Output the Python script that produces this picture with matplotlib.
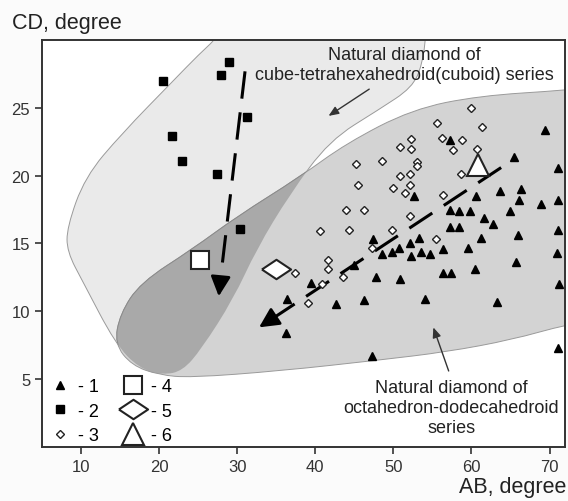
import numpy as np
import matplotlib
matplotlib.use("Agg")
import matplotlib.pyplot as plt
from matplotlib.path import Path
from matplotlib.patches import PathPatch

plt.rcParams['font.family'] = ['Liberation Sans', 'DejaVu Sans']

# series 1: triangles
tri_x = [52.6, 57.2, 69.4, 65.4, 71.1, 63.6, 66.3, 60.6, 71.1, 68.9, 66.1, 64.9, 61.6,
         62.7, 57.2, 58.4, 59.8, 57.2, 58.4, 66.0, 71.1, 61.2, 47.4, 48.5, 47.8, 44.9,
         39.5, 36.4, 46.3, 42.7, 53.3, 52.1, 50.7, 49.8, 53.5, 52.3, 54.7, 56.3, 59.6,
         71.0, 65.7, 56.3, 57.4, 60.4, 50.9, 71.2, 54.1, 63.3, 36.2, 47.3, 71.1]
tri_y = [18.5, 22.6, 23.4, 21.4, 20.6, 18.9, 19.0, 18.5, 18.2, 17.9, 18.2, 17.4, 16.9,
         16.4, 17.5, 17.4, 17.4, 16.2, 16.2, 15.6, 16.0, 15.4, 15.3, 14.2, 12.5, 13.4,
         12.1, 10.9, 10.8, 10.5, 15.4, 15.0, 14.7, 14.4, 14.4, 14.1, 14.2, 14.6, 14.7,
         14.3, 13.6, 12.8, 12.8, 13.1, 12.4, 12.0, 10.9, 10.7, 8.4, 6.7, 7.3]

# series 2: squares
sq_x = [20.5, 29.0, 27.9, 31.3, 21.7, 22.9, 27.4, 30.3]
sq_y = [27.0, 28.4, 27.4, 24.3, 22.9, 21.1, 20.1, 16.1]

# series 3: small diamonds
dia_x = [52.3, 50.8, 52.3, 45.2, 48.6, 53.0, 53.0, 50.8, 52.1, 52.1, 45.5, 49.9, 51.5,
         59.9, 55.6, 61.4, 56.2, 58.8, 57.6, 60.7, 58.7, 56.3, 43.9, 46.3, 52.1, 40.6,
         44.3, 49.8, 55.5, 47.2, 41.6, 41.6, 37.4, 43.5, 40.8, 39.1]
dia_y = [22.7, 22.1, 22.0, 20.9, 21.1, 21.0, 20.7, 20.0, 20.1, 19.3, 19.3, 19.1, 18.7,
         25.0, 23.9, 23.6, 22.8, 22.6, 21.9, 22.0, 20.1, 18.6, 17.5, 17.5, 17.0, 15.9,
         16.0, 16.0, 15.3, 14.7, 13.8, 13.1, 12.8, 12.5, 12.0, 10.6]

# 4-6: mean values
mean4 = (25.2, 13.8)
mean5 = (35.0, 13.1)
mean6 = (60.8, 20.8)

# trend arrows (start, tip)
trend_sq = [(31.0, 27.7), (27.6, 10.9)]
trend_tri = [(63.8, 20.6), (32.5, 8.7)]

# region outlines (control points)
cube_pts = [(28.0, 30.5), (25.0, 28.9), (21.8, 27.0), (15.2, 23.1), (10.5, 19.9),
            (8.2, 16.2), (8.2, 14.4), (10.3, 12.1), (14.4, 7.6), (17.4, 5.8),
            (20.5, 5.3), (23.0, 5.6), (25.4, 7.2), (29.5, 10.9), (32.5, 14.6),
            (36.7, 18.6), (41.8, 22.6), (48.2, 24.9), (52.4, 26.5), (53.7, 28.2),
            (54.2, 30.5), (54.4, 34), (54.4, 40), (27, 40), (29, 34)]
octa_pts = [(85.0, 27.0), (72.0, 26.3), (61.0, 25.9), (52.4, 24.9), (44.0, 22.4),
            (38.0, 19.9), (30.0, 17.0), (24.3, 14.6), (17.6, 12.1), (15.0, 9.8),
            (14.3, 7.6), (16.5, 6.0), (20.0, 5.3), (24.0, 5.1), (35.5, 5.6),
            (48.2, 6.4), (56.8, 7.0), (65.2, 7.9), (72.0, 9.0), (85.0, 10.5)]


def smooth_path(pts):
    # closed quadratic b-spline through the midpoints of the control polygon
    p = np.array(pts)
    mids = (p + np.roll(p, -1, axis=0)) / 2
    verts = [mids[-1]]
    codes = [Path.MOVETO]
    for i in range(len(p)):
        verts += [p[i], mids[i]]
        codes += [Path.CURVE3, Path.CURVE3]
    verts.append(mids[-1])
    codes.append(Path.CLOSEPOLY)
    return Path(verts, codes)


fig = plt.figure(figsize=(5.68, 5.02), dpi=100)
fig.patch.set_facecolor('#fbfbfb')
ax = fig.add_axes([0.074, 0.108, 0.921, 0.81])
ax.set_facecolor('white')

cube_path = smooth_path(cube_pts)
octa_path = smooth_path(octa_pts)
cube = PathPatch(cube_path, facecolor='#eaeaea', edgecolor='#9a9a9a', lw=0.7, zorder=1)
octa = PathPatch(octa_path, facecolor='#d3d3d3', edgecolor='#9a9a9a', lw=0.7, zorder=1)
ax.add_patch(cube)
ax.add_patch(octa)
overlap = PathPatch(octa_path, facecolor='#a9a9a9', edgecolor='#8a8a8a', lw=0.7, zorder=1.5)
ax.add_patch(overlap)
overlap.set_clip_path(cube)

dash = (0, (9, 4.5))
ax.plot([trend_sq[0][0], trend_sq[1][0] + 0.2], [trend_sq[0][1], trend_sq[1][1] + 1.2],
        color='black', lw=2.2, ls=dash, zorder=4)
ax.annotate('', xy=trend_sq[1], xytext=(trend_sq[1][0] + 0.25, trend_sq[1][1] + 1.5),
            arrowprops=dict(arrowstyle='-|>,head_length=1.2,head_width=0.6',
                            color='black', lw=2), zorder=4)
ax.plot([trend_tri[0][0], trend_tri[1][0] + 1.6], [trend_tri[0][1], trend_tri[1][1] + 0.6],
        color='black', lw=2.2, ls=dash, zorder=4)
ax.annotate('', xy=trend_tri[1], xytext=(trend_tri[1][0] + 2.0, trend_tri[1][1] + 0.76),
            arrowprops=dict(arrowstyle='-|>,head_length=1.2,head_width=0.6',
                            color='black', lw=2), zorder=4)

h1, = ax.plot(tri_x, tri_y, '^', ms=6.3, color='black', ls='none', zorder=5)
h2, = ax.plot(sq_x, sq_y, 's', ms=6, color='black', ls='none', zorder=5)
h3, = ax.plot(dia_x, dia_y, 'D', ms=4, mfc='white', mec='#222222', mew=1,
              ls='none', zorder=5)
flat_diamond = [(-1.5, 0), (0, 1), (1.5, 0), (0, -1), (-1.5, 0)]
h4, = ax.plot(*mean4, 's', ms=12.5, mfc='white', mec='#222222', mew=1.5, ls='none', zorder=6)
h5, = ax.plot(*mean5, marker=flat_diamond, ms=21, mfc='white', mec='#222222', mew=1.5,
              ls='none', zorder=6)
h6, = ax.plot(*mean6, '^', ms=16, mfc='white', mec='#222222', mew=1.5, ls='none', zorder=6)

ax.annotate('', xy=(41.4, 24.3), xytext=(47.2, 26.5),
            arrowprops=dict(arrowstyle='-|>,head_length=0.6,head_width=0.25',
                            color='#333333', lw=1), zorder=3)
ax.text(51.4, 28.2, 'Natural diamond of\ncube-tetrahexahedroid(cuboid) series',
        ha='center', va='center', fontsize=13, color='#222222', zorder=3)
ax.annotate('', xy=(55.0, 9.0), xytext=(57.2, 5.4),
            arrowprops=dict(arrowstyle='-|>,head_length=0.6,head_width=0.25',
                            color='#333333', lw=1), zorder=3)
ax.text(57.4, 2.9, 'Natural diamond of\noctahedron-dodecahedroid\nseries',
        ha='center', va='center', fontsize=13, color='#222222', zorder=3)

leg = ax.legend([h1, h2, h3, h4, h5, h6], ['- 1', '- 2', '- 3', '- 4', '- 5', '- 6'],
                ncol=2, loc='center left', bbox_to_anchor=(0.007, 0.088),
                frameon=False, fontsize=13, borderpad=0, borderaxespad=0,
                handletextpad=0.2, columnspacing=1.1, labelspacing=0.42,
                handlelength=1.6)

ax.set_xlim(5, 72)
ax.set_ylim(0, 30)
ax.set_xticks([10, 20, 30, 40, 50, 60, 70])
ax.set_yticks([5, 10, 15, 20, 25])
ax.tick_params(direction='out', length=5, width=1.2, labelsize=12, colors='#333333')
for s in ax.spines.values():
    s.set_linewidth(1.4)
    s.set_color('#333333')

fig.text(0.021, 1 - 23 / 502, 'CD, degree', fontsize=15.5, va='center', ha='left',
         color='#222222')
fig.text(0.998, 1 - 488 / 502, 'AB, degree', fontsize=15.5, va='center', ha='right',
         color='#222222')

fig.savefig('out.png', dpi=100, facecolor=fig.get_facecolor())
